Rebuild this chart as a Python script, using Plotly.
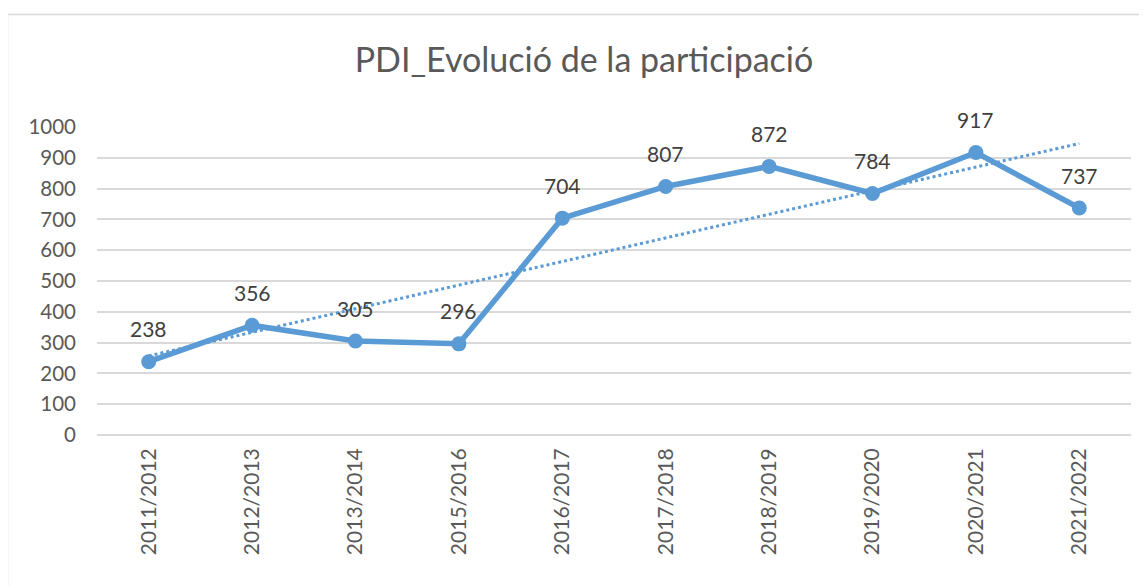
import numpy as np
import plotly.graph_objects as go

categories = ["2011/2012", "2012/2013", "2013/2014", "2015/2016", "2016/2017",
              "2017/2018", "2018/2019", "2019/2020", "2020/2021", "2021/2022"]
values = [238, 356, 305, 296, 704, 807, 872, 784, 917, 737]
y_ticks = [0, 100, 200, 300, 400, 500, 600, 700, 800, 900, 1000]
title_text = "PDI_Evolució de la participació"

BLUE = "#5B9BD5"
GRID = "#d9d9d9"
TXT = "#595959"
FONT = "Lato"

# linear trendline (as Excel computes it, over category index)
idx = np.arange(len(values))
slope, intercept = np.polyfit(idx, values, 1)
trend = slope * idx + intercept

fig = go.Figure()
fig.add_trace(go.Scatter(
    x=categories, y=values, mode="lines+markers",
    line=dict(color=BLUE, width=5.5),
    marker=dict(color=BLUE, size=15),
    hoverinfo="skip", showlegend=False,
))
fig.add_trace(go.Scatter(
    x=categories, y=trend, mode="lines",
    line=dict(color=BLUE, width=3, dash="dot"),
    hoverinfo="skip", showlegend=False,
))

for c, v in zip(categories, values):
    fig.add_annotation(x=c, y=v, text=str(v), showarrow=False, yshift=33,
                       font=dict(family=FONT, size=21, color="#404040"))

# page body has an 8px margin; work in screen pixels and convert
OFF = 8
W, H = 1147 - OFF, 586 - OFF
L = 97 - OFF
T = 127 - OFF
plot_bottom = 435 - OFF
plot_right = 1131 - OFF
B = H - plot_bottom
R = W - plot_right
pw, ph = W - L - R, H - T - B

def px_x(p):
    return (p - OFF - L) / pw

def px_y(p):
    return (plot_bottom - (p - OFF)) / ph

fig.add_shape(type="rect", xref="paper", yref="paper",
              x0=px_x(7.5), x1=px_x(1175), y0=px_y(14.5), y1=px_y(620),
              line=dict(color=GRID, width=1.5), fillcolor="rgba(0,0,0,0)", layer="below")

fig.update_layout(
    width=W, height=H,
    margin=dict(l=L, r=R, t=T, b=B),
    paper_bgcolor="white", plot_bgcolor="white",
    title=dict(text=title_text, x=(584 - OFF) / W, xref="container", xanchor="center",
               y=1 - (60 - OFF) / H, yref="container", yanchor="middle",
               font=dict(family=FONT, size=34, color=TXT)),
    font=dict(family=FONT, color=TXT),
    xaxis=dict(type="category", range=[-0.5, len(categories) - 0.5], tickangle=-90,
               showgrid=False, zeroline=False,
               showline=False, ticks="", tickfont=dict(family=FONT, size=21, color=TXT),
               ticklabelstandoff=8),
    yaxis=dict(range=[0, 1000], tickvals=y_ticks, showgrid=True, gridcolor=GRID,
               gridwidth=1.5, zeroline=True, zerolinecolor=GRID, zerolinewidth=1.5,
               showline=False, ticks="", tickfont=dict(family=FONT, size=20.5, color=TXT),
               ticklabelstandoff=20),
)

fig.write_html("out.html")
